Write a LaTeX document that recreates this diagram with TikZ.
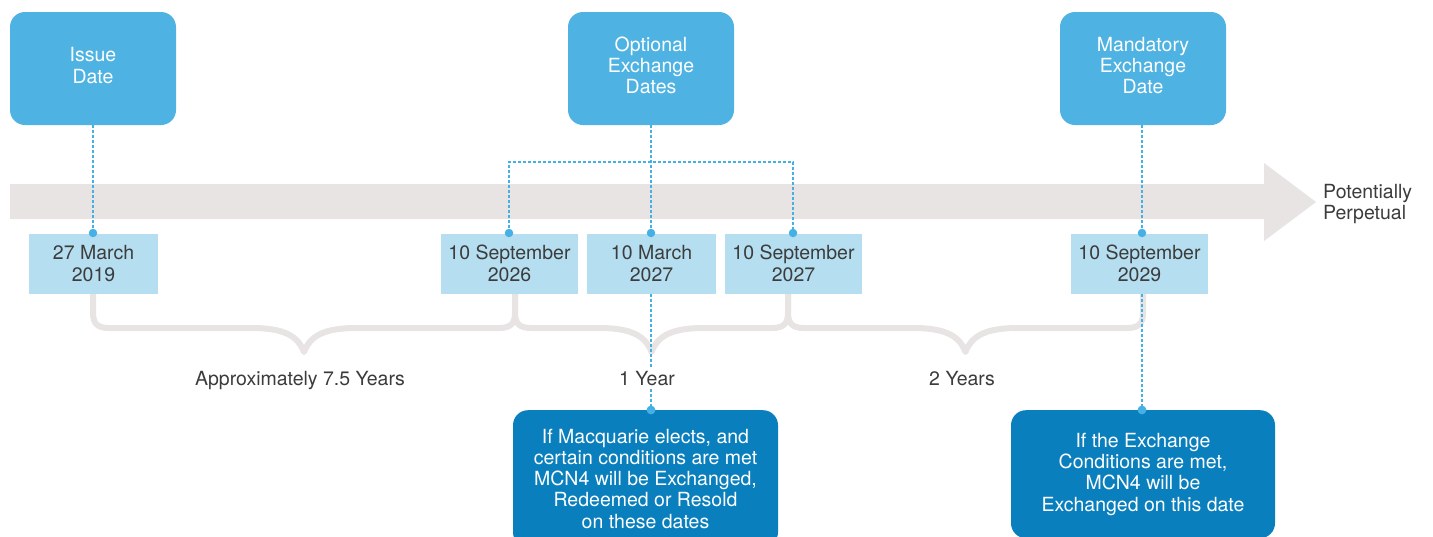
\documentclass[tikz,border=0pt]{standalone}
\usepackage{fontspec}
\setmainfont{TeX Gyre Heros}
\definecolor{topblue}{HTML}{4EB3E2}
\definecolor{dateblue}{HTML}{B5DEF0}
\definecolor{botblue}{HTML}{0A7FBD}
\definecolor{bandgray}{HTML}{E7E4E3}
\definecolor{dashblue}{HTML}{45B0E3}
\definecolor{txtgray}{HTML}{3C3C3C}
\newcommand{\fsz}{\fontsize{19.5}{21.3}\selectfont}
\newcommand{\drawbrace}[2]{%
  \pgfmathsetmacro{\tp}{(#1+#2)/2}%
  \draw[gbrace] (#1,293) -- (#1,313) .. controls (#1,324) and (#1+5,328) .. (#1+16,328)
    -- (\tp-52,328) .. controls (\tp-20,328) and (\tp-6,336) .. (\tp,352)
    .. controls (\tp+6,336) and (\tp+20,328) .. (\tp+52,328)
    -- (#2-16,328) .. controls (#2-5,328) and (#2,324) .. (#2,313) -- (#2,293);}
\begin{document}
\begin{tikzpicture}[x=1pt,y=-1pt,
  topbox/.style={fill=topblue, rounded corners=15, minimum width=166, minimum height=113,
    text=white, align=center, font=\fsz, inner sep=0, text depth=6.5pt},
  datebox/.style={fill=dateblue, minimum height=60, text=txtgray, align=center, font=\fsz, inner sep=0},
  botbox/.style={fill=botblue, rounded corners=15, text=white, align=center, font=\fsz, inner sep=0, anchor=north},
  dotc/.style={circle, fill=dashblue, inner sep=0, minimum size=8.5},
  dashline/.style={draw=dashblue, line width=1.3, dash pattern=on 3pt off 2pt},
  gbrace/.style={draw=bandgray, line width=6, line join=round},
  lbl/.style={text=txtgray, font=\fsz, fill=white, inner sep=4, anchor=base}]
\useasboundingbox (0,0) rectangle (1433,536);
\clip (0,0) rectangle (1433,536);

% timeline band with arrow head
\fill[bandgray] (10,184) -- (1264,184) -- (1264,163) -- (1316,202) -- (1264,241)
  -- (1264,219) -- (10,219) -- cycle;
\node[text=txtgray, font=\fsz, align=left, anchor=west, inner sep=0] (perp) at (1323,204)
  {Potentially\\Perpetual};

% braces
\drawbrace{93}{515}
\drawbrace{515}{788}
\drawbrace{788}{1143}

% top boxes
\node[topbox] (issue) at (93,68.5) {Issue\\Date};
\node[topbox] (opt) at (651,68.5) {Optional\\Exchange\\Dates};
\node[topbox] (mand) at (1143,68.5) {Mandatory\\Exchange\\Date};

% date boxes
\node[datebox, minimum width=129] (d1) at (93.5,263.5) {27 March\\2019};
\node[datebox, minimum width=137] (d2) at (509.5,263.5) {10 September\\2026};
\node[datebox, minimum width=129] (d3) at (651.5,263.5) {10 March\\2027};
\node[datebox, minimum width=137] (d4) at (793.5,263.5) {10 September\\2027};
\node[datebox, minimum width=137] (d5) at (1139.5,263.5) {10 September\\2029};

% bottom boxes
\node[botbox, minimum width=265, minimum height=137] (b1) at (645.5,410)
  {If Macquarie elects, and\\certain conditions are met\\MCN4 will be Exchanged,\\Redeemed or Resold\\on these dates};
\node[botbox, minimum width=264, minimum height=128] (b2) at (1143,410)
  {If the Exchange\\Conditions are met,\\MCN4 will be\\Exchanged on this date};

% dots
\node[dotc] (p1) at (93,233) {};
\node[dotc] (p2) at (509,233) {};
\node[dotc] (p3) at (651,233) {};
\node[dotc] (p4) at (793,233) {};
\node[dotc] (p5) at (1142,233) {};
\node[dotc] (p6) at (651,410) {};
\node[dotc] (p7) at (1142,410) {};
\coordinate (hj) at (651,162);

% dashed connectors
\draw[dashline] (p1 |- issue.south) -- (p1.center);
\draw[dashline] (p3 |- opt.south) -- (p3.center);
\draw[dashline] (p2.center) |- (hj) -| (p4.center);
\draw[dashline] (p5 |- mand.south) -- (p5.center);
\draw[dashline] (p6 |- d3.south) -- (p6.center);
\draw[dashline] (p7 |- d5.south) -- (p7.center);
\node[dotc] at (p6) {};
\node[dotc] at (p7) {};

% labels
\node[lbl] (l1) at (300,385) {Approximately 7.5 Years};
\node[lbl] (l2) at (647,385) {1 Year};
\node[lbl] (l3) at (962,385) {2 Years};
\end{tikzpicture}
\end{document}
